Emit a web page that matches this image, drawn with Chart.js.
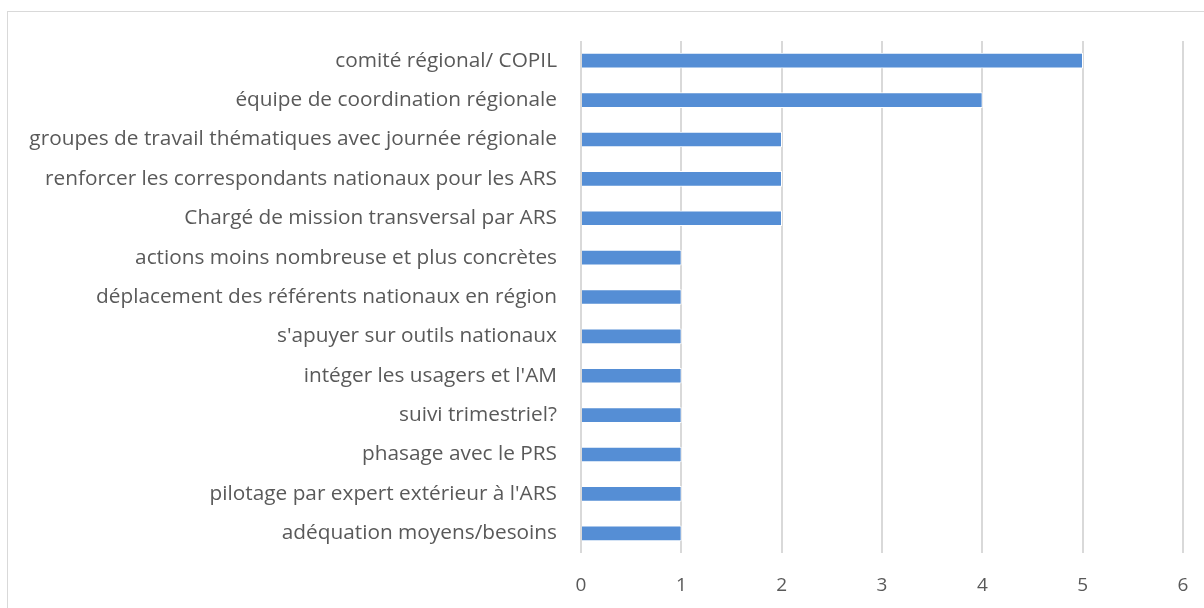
<!DOCTYPE html>
<html>
<head>
<meta charset="utf-8">
<script src="https://cdn.jsdelivr.net/npm/chart.js@4"></script>
<style>
    html, body { margin: 0; padding: 0; background: #fff; overflow: hidden; }
    #wrap { position: relative; width: 1204px; height: 608px; }
    #frame { position: absolute; left: 7px; top: 11px; width: 1220px; height: 620px; border: 1.5px solid #D9D9D9; box-sizing: border-box; }
    canvas { position: absolute; left: 0; top: 0; }
</style>
</head>
<body>
<div id="wrap">
    <div id="frame"></div>
    <canvas id="barChart" width="1204" height="608"></canvas>
</div>
<script>
const categories = [
    'comité régional/ COPIL',
    'équipe de coordination régionale',
    'groupes de travail thématiques avec journée régionale',
    'renforcer les correspondants nationaux pour les ARS',
    'Chargé de mission transversal par ARS',
    'actions moins nombreuse et plus concrètes',
    'déplacement des référents nationaux en région',
    "s'apuyer sur outils nationaux",
    "intéger les usagers et l'AM",
    'suivi trimestriel?',
    'phasage avec le PRS',
    "pilotage par expert extérieur à l'ARS",
    'adéquation moyens/besoins'
];
const counts = [5, 4, 2, 2, 2, 1, 1, 1, 1, 1, 1, 1, 1];
const xTicks = [0, 1, 2, 3, 4, 5, 6];

const textColor = '#595959';
const gridColor = '#D9D9D9';
const fontFamily = "'Open Sans', 'Liberation Sans', sans-serif";

const ctx = document.getElementById('barChart');
new Chart(ctx, {
    type: 'bar',
    data: {
        labels: categories,
        datasets: [{
            data: counts,
            backgroundColor: '#558ED5',
            borderColor: '#ffffff',
            borderWidth: 1,
            barThickness: 15
        }]
    },
    options: {
        indexAxis: 'y',
        responsive: false,
        animation: false,
        layout: { padding: { left: 10, right: 21, top: 41, bottom: 0 } },
        scales: {
            x: {
                min: 0,
                max: 6,
                afterBuildTicks: axis => { axis.ticks = xTicks.map(v => ({ value: v })); },
                grid: { color: gridColor, lineWidth: 2, drawTicks: false },
                border: { display: false },
                ticks: { color: textColor, padding: 21, font: { family: fontFamily, size: 19 } },
                afterFit: axis => { axis.height = 55; axis.paddingLeft = 0; axis.paddingRight = 0; }
            },
            y: {
                grid: { display: false, drawTicks: false },
                border: { display: false },
                ticks: { color: textColor, padding: 24, font: { family: fontFamily, size: 20.8 } },
                afterFit: axis => { axis.width = 571; }
            }
        },
        plugins: {
            legend: { display: false },
            tooltip: { enabled: false }
        }
    }
});
</script>
</body>
</html>
